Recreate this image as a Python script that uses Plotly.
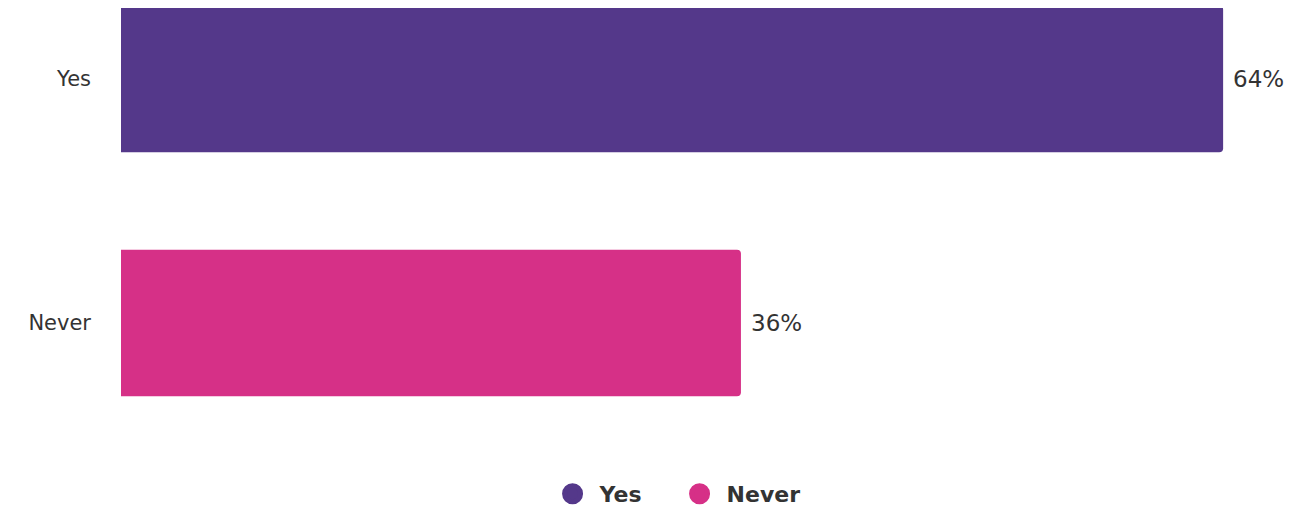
import plotly.graph_objects as go

categories = ["Yes", "Never"]
values = [64, 36]
colors = ["#54388a", "#d63087"]

FONT = "DejaVu Sans"
TXT = "#333333"

fig = go.Figure()
for cat, val, col in zip(categories, values, colors):
    fig.add_trace(go.Bar(
        x=[val], y=[cat], orientation="h",
        marker=dict(color=col, cornerradius=4, line=dict(width=0)),
        showlegend=False, hoverinfo="skip", width=0.6,
    ))
    fig.add_annotation(x=val, y=cat, text=f"{val}%", xanchor="left", xshift=8, showarrow=False,
                       font=dict(family=FONT, size=23, color=TXT))
for cat, col in zip(categories, colors):
    fig.add_trace(go.Scatter(
        x=[None], y=[None], mode="markers", name=f" <b>{cat}</b>",
        marker=dict(color=col, size=17, symbol="circle", line=dict(color=col, width=5)),
    ))

fig.update_layout(
    width=1303, height=509,
    margin=dict(l=113, r=19, t=0, b=72),
    plot_bgcolor="white", paper_bgcolor="white",
    barmode="overlay",
    showlegend=True,
    legend=dict(orientation="h", x=0.477, xanchor="center", y=-0.112, yanchor="middle",
                entrywidth=82, entrywidthmode="pixels",
                font=dict(family=FONT, size=22, color=TXT), itemclick=False),
    xaxis=dict(range=[0, 68], visible=False, showgrid=False, zeroline=False, fixedrange=True),
    yaxis=dict(type="category", categoryorder="array", categoryarray=categories,
               range=[1.5, -71/244], showgrid=False, zeroline=False, showline=False,
               ticks="", ticklabelstandoff=29,
               tickfont=dict(family=FONT, size=21, color=TXT)),
)
fig.write_html("out.html")
